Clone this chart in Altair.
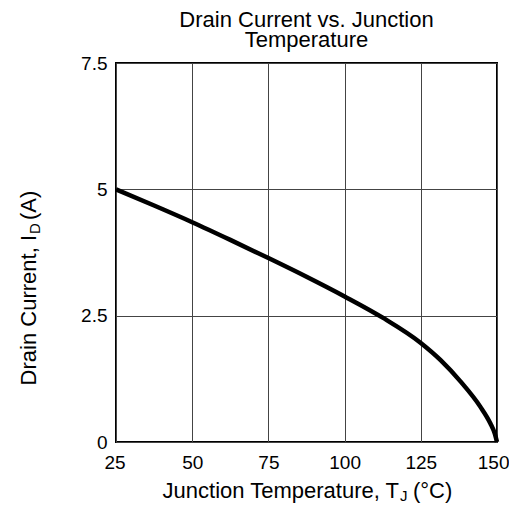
import altair as alt
import pandas as pd

# Junction temperature (°C) and drain current (A)
temps = [25, 37.5, 50, 62.5, 75, 87.5, 100, 112.5, 125, 131.5, 138, 144.5, 147.8, 149.3, 150]
current = [5.0, 4.68, 4.35, 4.0, 3.64, 3.27, 2.88, 2.46, 1.96, 1.62, 1.2, 0.7, 0.37, 0.16, 0.0]

x_ticks = [25, 50, 75, 100, 125, 150]
y_ticks = [0, 2.5, 5, 7.5]

title_lines = ["Drain Current vs. Junction", "Temperature"]
x_title_main, x_title_sub, x_title_end = "Junction Temperature, T", "J", "(°C)"
y_title_main, y_title_sub, y_title_end = "Drain Current, I", "D", "(A)"

FONT = "Liberation Sans"
df = pd.DataFrame({"T": temps, "I": current})
one = pd.DataFrame({"k": [0]})

line = alt.Chart(df).mark_line(color="black", strokeWidth=4.5, interpolate="monotone").encode(
    x=alt.X("T:Q", scale=alt.Scale(domain=[25, 150], nice=False),
            axis=alt.Axis(values=x_ticks, title=None, grid=True, ticks=False, domain=False,
                          labelFontSize=19, labelFont=FONT, labelColor="black",
                          labelPadding=11, gridColor="#444", gridWidth=1, gridOpacity=1,
                          labelFlush=True, labelFlushOffset=12)),
    y=alt.Y("I:Q", scale=alt.Scale(domain=[0, 7.5], nice=False),
            axis=alt.Axis(values=y_ticks, title=None, grid=True, ticks=False, domain=False,
                          labelExpr="datum.value + ''", labelFontSize=19, labelFont=FONT,
                          labelColor="black", labelPadding=9, gridColor="#444", gridWidth=1,
                          gridOpacity=1, labelFlush=False)),
)

def txt(text, x, y, size, align, angle=0, dx=0, dy=0):
    return alt.Chart(one).mark_text(
        text=text, font=FONT, fontSize=size, align=align, baseline="alphabetic",
        angle=angle, dx=dx, dy=dy, color="black"
    ).encode(x=alt.value(x), y=alt.value(y))

# x axis title with subscript
XA, XB = 283, 435
xt = (txt(x_title_main, XA, XB, 22, "right")
      + txt(x_title_sub, XA + 1, XB + 3, 15, "left")
      + txt(x_title_end, XA + 14, XB, 22, "left"))

# y axis title (rotated) with subscript
YX, YY = -80, 172
yt = (txt(y_title_main, YX, YY, 22, "right", angle=270)
      + txt(y_title_sub, YX, YY, 15, "left", angle=270, dx=1, dy=4)
      + txt(y_title_end, YX, YY, 22, "left", angle=270, dx=15))

chart = alt.layer(line, xt, yt).properties(
    width=381, height=379,
    title=alt.TitleParams(title_lines, font=FONT, fontSize=22, fontWeight="normal",
                          color="black", anchor="middle", lineHeight=20, offset=2),
    autosize=alt.AutoSizeParams(type="none"),
    padding={"left": 108, "top": 55, "right": 12, "bottom": 61},
).configure_view(stroke="black", strokeWidth=2)

chart.save("out.html", embed_options={"renderer": "svg", "actions": False})
